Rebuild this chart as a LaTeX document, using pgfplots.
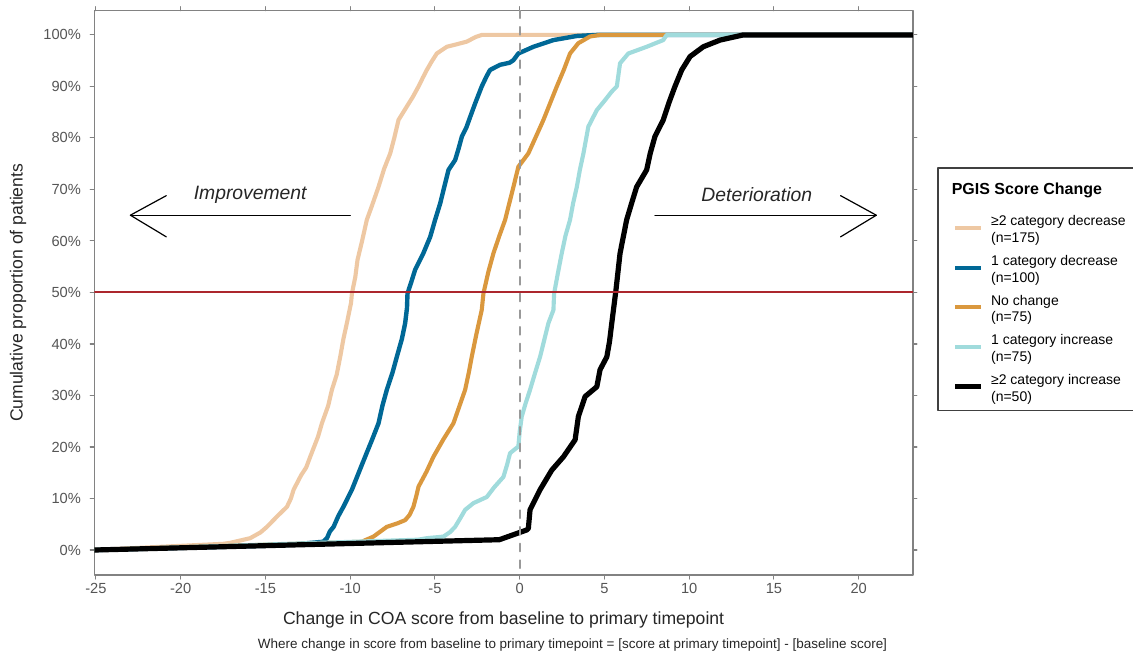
\documentclass[border=0pt]{standalone}
\usepackage{pgfplots}
\pgfplotsset{compat=1.18}
\usepackage{fontspec}
\setmainfont{Liberation Sans}
\definecolor{cpeach}{RGB}{238,200,163}
\definecolor{cblue}{RGB}{0,104,150}
\definecolor{corange}{RGB}{218,152,62}
\definecolor{ccyan}{RGB}{160,219,220}
\definecolor{cred}{RGB}{172,38,45}
\definecolor{cframe}{RGB}{130,130,130}
\definecolor{ctick}{RGB}{85,85,85}
\begin{document}
\begin{tikzpicture}
\begin{axis}[
  at={(70.7pt,60.75pt)}, anchor=south west,
  scale only axis, width=614pt, height=423.2pt,
  xmin=-25.1, xmax=23.2, ymin=-4.85, ymax=104.7,
  xtick={-25,-20,...,20},
  ytick={0,10,...,100},
  yticklabels={0\%,10\%,20\%,30\%,40\%,50\%,60\%,70\%,80\%,90\%,100\%},
  /pgf/number format/assume math mode=true,
  tick align=outside, major tick length=3pt,
  tick style={cframe, line width=0.8pt},
  axis line style={cframe, line width=1pt},
  ticklabel style={font=\fontsize{11}{13}\selectfont, text=ctick},
  yticklabel style={xshift=-3.5pt},
  xlabel={Change in COA score from baseline to primary timepoint},
  ylabel={Cumulative proportion of patients},
  label style={font=\fontsize{13.2}{15}\selectfont, text=black!85},
  xlabel style={at={(axis description cs:0.5,-0.0797)}, anchor=center},
  ylabel style={at={(axis description cs:-0.0932,0.5)}, anchor=center},
  line join=round, line cap=round,
  legend cell align=left,
  legend style={at={(axis description cs:1.0297,0.7225)}, anchor=north west,
    draw=black!75, line width=1pt, font=\fontsize{10.5}{12.5}\selectfont,
    inner xsep=11pt, inner ysep=9.5pt, row sep=9pt,
    /tikz/every odd column/.append style={column sep=4pt}},
  legend image code/.code={\draw[#1] (0pt,-2pt) -- (19pt,-2pt);},
]
\addlegendimage{empty legend}
\addlegendentry{\hspace*{-29.5pt}\fontsize{12}{14}\selectfont\bfseries PGIS Score Change}

\addplot[cpeach, line width=3.1pt] coordinates {
(-25.1,0) (-17.5,1.2) (-17.07,1.4) (-15.9,2.3) (-15.3,3.4) (-14.91,4.5) (-14.32,6.5) (-13.73,8.4) (-13.5,10.0) (-13.34,11.7) (-12.9,14.5) (-12.6,16.0) (-12.36,18.1) (-11.9,22.0) (-11.67,24.6) (-11.3,28.0) (-11.08,31.1) (-10.8,34.0) (-10.59,37.5) (-10.4,41.0) (-10.2,44.0) (-9.95,48.0) (-9.90,49.8) (-9.7,53.0) (-9.57,56.3) (-9.3,60.0) (-9.02,64.1) (-8.7,67.0) (-8.33,70.5) (-8.0,74.0) (-7.64,77.0) (-7.4,80.0) (-7.15,83.5) (-6.66,86.1) (-6.3,88.0) (-5.97,90.0) (-5.7,91.8) (-5.48,93.2) (-5.2,94.8) (-4.89,96.4) (-4.30,97.7) (-3.7,98.2) (-3.12,98.7) (-2.6,99.6) (-2.23,100) (23.2,100)};
\addlegendentry{\begin{tabular}{@{}l@{}}≥2 category decrease\\(n=175)\end{tabular}}

\addplot[cblue, line width=3.3pt] coordinates {
(-25.1,0) (-14,0.9) (-11.6,1.6) (-11.37,2.3) (-11.2,3.6) (-10.98,4.5) (-10.7,6.6) (-10.40,8.4) (-9.90,11.7) (-9.5,15.0) (-9.12,18.1) (-8.7,21.5) (-8.33,24.6) (-8.1,28.0) (-7.84,31.1) (-7.5,34.5) (-7.25,37.5) (-6.95,41.0) (-6.76,44.0) (-6.65,47.0) (-6.62,49.8) (-6.4,52.0) (-6.17,54.4) (-5.7,57.5) (-5.28,60.8) (-5.0,64.0) (-4.69,67.3) (-4.45,70.5) (-4.20,73.8) (-3.81,75.7) (-3.6,78.0) (-3.41,80.3) (-3.15,82.0) (-2.92,84.1) (-2.63,86.7) (-2.24,90.0) (-1.95,92.0) (-1.75,93.2) (-1.16,94.2) (-0.6,94.6) (-0.37,95.1) (-0.08,96.4) (0.81,97.7) (1.99,99.0) (3.37,99.8) (4.55,100) (23.2,100)};
\addlegendentry{\begin{tabular}{@{}l@{}}1 category decrease\\(n=100)\end{tabular}}

\addplot[corange, line width=3.1pt] coordinates {
(-25.1,0) (-9.3,1.6) (-9.12,1.9) (-8.63,2.6) (-7.84,4.5) (-7.2,5.2) (-6.76,5.8) (-6.5,6.8) (-6.27,8.4) (-6.1,10.5) (-5.97,12.3) (-5.5,15.2) (-5.09,18.1) (-4.5,21.5) (-3.91,24.6) (-3.55,28.0) (-3.22,31.1) (-3.0,34.5) (-2.83,37.5) (-2.55,42.0) (-2.24,46.6) (-2.14,49.8) (-1.85,54.0) (-1.55,57.6) (-1.2,61.0) (-0.86,64.1) (-0.6,67.5) (-0.37,70.5) (-0.08,74.4) (0.51,77.0) (0.95,80.2) (1.40,83.5) (1.8,86.8) (2.19,90.0) (2.6,93.2) (2.97,96.4) (3.46,98.4) (4.15,99.7) (4.74,100) (23.2,100)};
\addlegendentry{\begin{tabular}{@{}l@{}}No change\\(n=75)\end{tabular}}

\addplot[ccyan, line width=3.1pt] coordinates {
(-25.1,0) (-6,2.0) (-5.48,2.3) (-4.50,2.6) (-4.1,3.5) (-3.81,4.5) (-3.5,6.2) (-3.22,7.8) (-2.73,9.1) (-1.94,10.3) (-1.5,12.2) (-0.96,14.2) (-0.75,16.5) (-0.57,18.8) (-0.08,20.1) (0.0,23.0) (0.12,25.9) (0.35,28.5) (0.61,31.1) (0.9,34.3) (1.20,37.5) (1.45,40.8) (1.69,44.0) (1.99,46.6) (2.03,49.8) (2.25,53.7) (2.48,57.6) (2.7,61.0) (2.97,64.1) (3.15,67.3) (3.37,70.5) (3.55,73.8) (3.76,77.0) (4.05,82.2) (4.55,85.4) (5.0,87.2) (5.43,89.0) (5.73,90.0) (5.92,94.5) (6.41,96.4) (7.49,97.7) (8.47,99.0) (8.67,100) (23.2,100)};
\addlegendentry{\begin{tabular}{@{}l@{}}1 category increase\\(n=75)\end{tabular}}

\addplot[black, line width=3.9pt] coordinates {
(-25.1,0) (-1.2,2.0) (0.42,3.9) (0.51,4.2) (0.61,7.8) (1.20,11.7) (1.89,15.5) (2.58,18.1) (3.27,21.4) (3.46,25.9) (3.86,29.8) (4.55,31.7) (4.74,35.0) (5.14,37.5) (5.3,40.5) (5.43,44.0) (5.68,50.5) (5.92,57.6) (6.31,64.1) (6.6,67.3) (6.90,70.5) (7.49,73.8) (7.7,77.0) (7.98,80.3) (8.47,83.5) (8.8,86.8) (9.16,90.0) (9.56,93.2) (10.05,95.8) (10.83,97.7) (11.82,99.0) (13.19,100) (23.2,100)};
\addlegendentry{\begin{tabular}{@{}l@{}}≥2 category increase\\(n=50)\end{tabular}}

\addplot[forget plot, black!40, line width=1.2pt, dash pattern=on 6pt off 6.5pt] coordinates {(0,-10) (0,110)};
\addplot[forget plot, cred, line width=1.5pt] coordinates {(-30,50) (30,50)};

\addplot[forget plot, black, line width=0.9pt] coordinates {(-10.0,65.0) (-22.97,65.0)};
\addplot[forget plot, black, line width=0.9pt] coordinates {(-20.85,68.8) (-22.97,65.0) (-20.85,60.8)};
\addplot[forget plot, black, line width=0.9pt] coordinates {(7.98,65.0) (21.04,65.0)};
\addplot[forget plot, black, line width=0.9pt] coordinates {(18.93,68.8) (21.04,65.0) (18.93,60.8)};
\node[font=\fontsize{14.5}{16}\selectfont\itshape, text=black!85] at (axis cs:-15.9,69.0) {Improvement};
\node[font=\fontsize{14.5}{16}\selectfont\itshape, text=black!85] at (axis cs:13.99,69.1) {Deterioration};
\end{axis}
\node[font=\fontsize{10.1}{12}\selectfont, text=black!85] at (429.4pt,8.0pt) {Where change in score from baseline to primary timepoint = [score at primary timepoint] - [baseline score]};
\pgfresetboundingbox
\path[use as bounding box] (0,0) rectangle (849.75pt,492pt);
\end{tikzpicture}
\end{document}
